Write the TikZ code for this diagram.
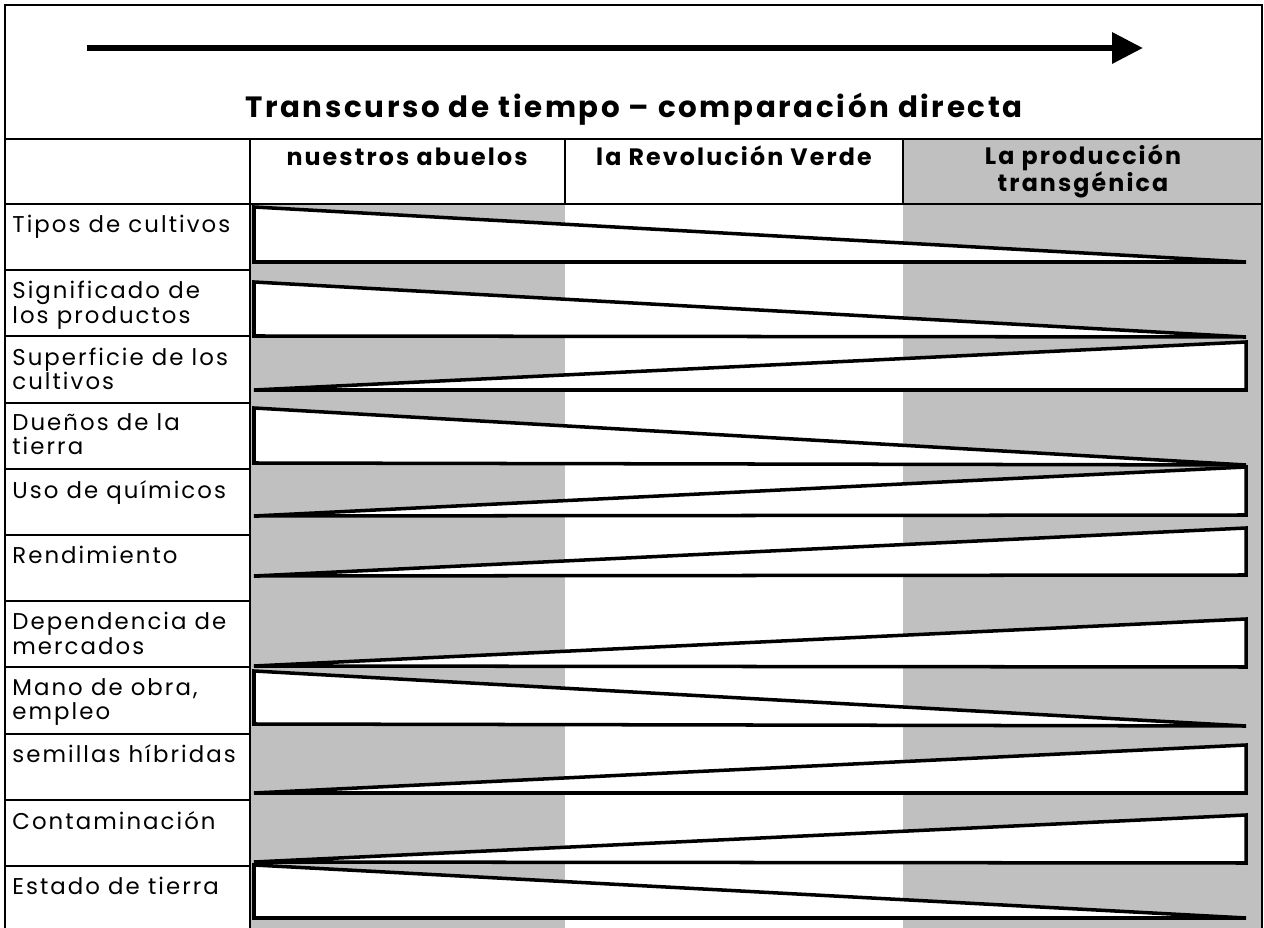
\documentclass[tikz,border=0pt]{standalone}
\usepackage{fontspec}
\setmainfont{Poppins}[LetterSpace=9]
\usepackage{tikz}
\usetikzlibrary{arrows.meta}
\definecolor{gris}{RGB}{192,192,192}

\begin{document}
\begin{tikzpicture}[
            x=0.02cm, y=-0.02cm,
            % Style para las lineas de la tabla
            rejilla/.style={draw=black, line width=1.1pt},
            % Style para las cunas (triangulos)
            cuna/.style={draw=black, fill=white, line width=2pt, line join=miter},
            % Style para los rotulos de las filas
            fila/.style={
                anchor=north west,
                inner sep=0pt,
                align=left,
                font=\fontsize{13}{13.7}\selectfont
            },
            % Style para los encabezados de columna
            encab/.style={
                anchor=base,
                inner sep=0pt,
                align=center,
                font=\bfseries\fontsize{13.5}{14.8}\selectfont
            },
            % Style para el titulo
            titulo/.style={
                anchor=base,
                inner sep=0pt,
                font=\bfseries\fontsize{16.7}{20}\selectfont
            }
        ]
            \useasboundingbox (0,0) rectangle (1264,928);

            % FONDO GRIS DE LAS COLUMNAS
            \fill[gris] (250,204) rectangle (565,928);
            \fill[gris] (903,139) rectangle (1262,928);

            % FLECHA DEL TIEMPO Y TITULO
            \coordinate (tini) at (87,48);
            \coordinate (tfin) at (1143,48);
            \draw[line width=0.13cm, -{Triangle[length=0.62cm,width=0.6cm]}] (tini) -- (tfin);
            \node[titulo] (titulo) at (634,118) {Transcurso de tiempo – comparación directa};

            % ENCABEZADOS DE COLUMNA
            \node[encab] (abuelos) at (407,166) {nuestros abuelos};
            \node[encab] (verde) at (734,166) {la Revolución Verde};
            \node[encab] (transg) at (1083,192) {La producción\\transgénica};

            % CUNAS: ancho a la izquierda (baja) o a la derecha (sube)
            \filldraw[cuna] (254,207) -- (254,262) -- (1246,262) -- cycle;
            \filldraw[cuna] (254,282) -- (254,336) -- (1246,337) -- cycle;
            \filldraw[cuna] (254,390) -- (1246,390) -- (1246,342) -- cycle;
            \filldraw[cuna] (254,408) -- (254,463) -- (1246,465) -- cycle;
            \filldraw[cuna] (254,516) -- (1246,515) -- (1246,467) -- cycle;
            \filldraw[cuna] (254,576) -- (1246,575) -- (1246,528) -- cycle;
            \filldraw[cuna] (254,666) -- (1246,667) -- (1246,619) -- cycle;
            \filldraw[cuna] (254,671) -- (254,724) -- (1246,726) -- cycle;
            \filldraw[cuna] (254,793) -- (1246,793) -- (1246,745) -- cycle;
            \filldraw[cuna] (254,862) -- (1246,863) -- (1246,815) -- cycle;
            \filldraw[cuna] (254,865) -- (254,918) -- (1246,918) -- cycle;

            % MARCO Y LINEAS DE LA TABLA
            \draw[rejilla] (5,928) -- (5,5) -- (1262,5) -- (1262,928);
            \draw[rejilla] (5,139) -- (1262,139);
            \draw[rejilla] (5,204) -- (1262,204);
            \draw[rejilla] (250,139) -- (250,928);
            \draw[rejilla] (565,139) -- (565,204);
            \draw[rejilla] (903,139) -- (903,204);
            \draw[rejilla] (5,270.2) -- (250,270.2);
            \draw[rejilla] (5,336.4) -- (250,336.4);
            \draw[rejilla] (5,402.6) -- (250,402.6);
            \draw[rejilla] (5,468.8) -- (250,468.8);
            \draw[rejilla] (5,535) -- (250,535);
            \draw[rejilla] (5,601.2) -- (250,601.2);
            \draw[rejilla] (5,667.4) -- (250,667.4);
            \draw[rejilla] (5,733.6) -- (250,733.6);
            \draw[rejilla] (5,799.8) -- (250,799.8);
            \draw[rejilla] (5,866) -- (250,866);

            % ROTULOS DE LAS FILAS
            \node[fila] (tipos) at (12,215) {Tipos de cultivos};
            \node[fila] (signif) at (12,281.2) {Significado de\\los productos};
            \node[fila] (superf) at (12,347.4) {Superficie de los\\cultivos};
            \node[fila] (duenos) at (12,413.6) {Dueños de la\\tierra};
            \node[fila] (quimic) at (12,479.8) {Uso de químicos};
            \node[fila] (rendim) at (12,546) {Rendimiento};
            \node[fila] (depend) at (12,612.2) {Dependencia de\\mercados};
            \node[fila] (obra) at (12,678.4) {Mano de obra,\\empleo};
            \node[fila] (semill) at (12,744.6) {semillas híbridas};
            \node[fila] (contam) at (12,810.8) {Contaminación};
            \node[fila] (estado) at (12,877) {Estado de tierra};

        \end{tikzpicture}
\end{document}
